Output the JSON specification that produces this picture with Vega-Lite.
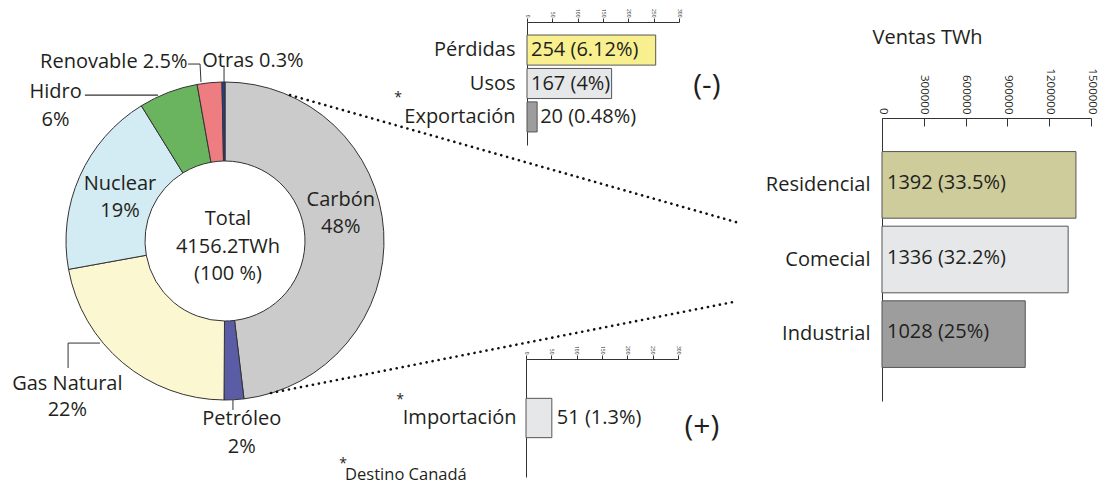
{
  "$schema": "https://vega.github.io/schema/vega-lite/v6.json",
  "width": 1101,
  "height": 487,
  "autosize": {"type": "none"},
  "padding": 0,
  "background": "white",
  "config": {
    "view": {"stroke": null},
    "font": "Open Sans",
    "axis": {"labelFont": "Open Sans", "titleFont": "Open Sans", "labelColor": "#231f20", "titleColor": "#231f20", "domainColor": "#333333", "tickColor": "#333333", "grid": false}
  },
  "datasets": {
    "fuentes": [
      {"fuente": "Carbón", "pct": 48, "orden": 1},
      {"fuente": "Petróleo", "pct": 2, "orden": 2},
      {"fuente": "Gas Natural", "pct": 22, "orden": 3},
      {"fuente": "Nuclear", "pct": 19, "orden": 4},
      {"fuente": "Hidro", "pct": 6, "orden": 5},
      {"fuente": "Renovable", "pct": 2.5, "orden": 6},
      {"fuente": "Otras", "pct": 0.3, "orden": 7}
    ],
    "total": [{"total": 4156.2, "pct": 100}],
    "balance": [
      {"concepto": "Pérdidas", "twh": 254, "pct": 6.12},
      {"concepto": "Usos", "twh": 167, "pct": 4},
      {"concepto": "Exportación", "twh": 20, "pct": 0.48}
    ],
    "importacion": [{"concepto": "Importación", "twh": 51, "pct": 1.3}],
    "ventas": [
      {"sector": "Residencial", "twh": 1392, "pct": 33.5},
      {"sector": "Comecial", "twh": 1336, "pct": 32.2},
      {"sector": "Industrial", "twh": 1028, "pct": 25}
    ]
  },
  "resolve": {
    "scale": {"x": "independent", "y": "independent", "theta": "independent", "fill": "independent"},
    "axis": {"x": "independent", "y": "independent"}
  },
  "layer": [
    {
      "data": {"name": "fuentes"},
      "transform": [
        {"window": [{"op": "sum", "field": "pct", "as": "acum"}], "sort": [{"field": "orden"}], "frame": [null, 0]},
        {"calculate": "datum.acum - datum.pct / 2", "as": "medio"},
        {"calculate": "indexof(['Renovable', 'Otras'], datum.fuente) >= 0 ? datum.fuente + ' ' + datum.pct + '%' : [datum.fuente, datum.pct + '%']", "as": "etiqueta"}
      ],
      "layer": [
        {
          "mark": {"type": "arc", "innerRadius": 80, "outerRadius": 159, "stroke": "#333333", "strokeWidth": 1},
          "encoding": {
            "x": {"datum": 0, "type": "quantitative", "scale": {"domain": [-1, 1], "range": [66, 384], "nice": false, "zero": false}, "axis": null},
            "y": {"datum": 0, "type": "quantitative", "scale": {"domain": [-1, 1], "range": [400, 82], "nice": false, "zero": false}, "axis": null},
            "theta": {"field": "pct", "type": "quantitative", "stack": true},
            "order": {"field": "orden", "type": "quantitative"},
            "fill": {"field": "fuente", "type": "nominal", "legend": null,
              "scale": {"domain": ["Carbón", "Petróleo", "Gas Natural", "Nuclear", "Hidro", "Renovable", "Otras"],
                        "range": ["#cbcbcb", "#5a5ca6", "#fbf7d0", "#d3ebf2", "#6bb45f", "#ee7d82", "#1f3f8f"]}}
          }
        },
        {
          "transform": [{"filter": "datum.fuente == 'Carbón'"}],
          "mark": {"type": "text", "radius": 116, "dx": 0, "dy": -34, "fontSize": 20, "lineHeight": 27, "align": "center", "baseline": "middle", "color": "#231f20", "font": "Open Sans"},
          "encoding": {
            "x": {"datum": 0, "type": "quantitative", "scale": {"domain": [-1, 1], "range": [66, 384], "nice": false, "zero": false}, "axis": null},
            "y": {"datum": 0, "type": "quantitative", "scale": {"domain": [-1, 1], "range": [400, 82], "nice": false, "zero": false}, "axis": null},
            "theta": {"field": "medio", "type": "quantitative", "stack": null},
            "text": {"field": "etiqueta", "type": "nominal"}
          }
        },
        {
          "transform": [{"filter": "datum.fuente == 'Nuclear'"}],
          "mark": {"type": "text", "radius": 116, "dx": 1, "dy": -10, "fontSize": 20, "lineHeight": 27, "align": "center", "baseline": "middle", "color": "#231f20", "font": "Open Sans"},
          "encoding": {
            "x": {"datum": 0, "type": "quantitative", "scale": {"domain": [-1, 1], "range": [66, 384], "nice": false, "zero": false}, "axis": null},
            "y": {"datum": 0, "type": "quantitative", "scale": {"domain": [-1, 1], "range": [400, 82], "nice": false, "zero": false}, "axis": null},
            "theta": {"field": "medio", "type": "quantitative", "stack": null},
            "text": {"field": "etiqueta", "type": "nominal"}
          }
        },
        {
          "transform": [{"filter": "datum.fuente == 'Petróleo'"}],
          "mark": {"type": "text", "radius": 190, "dx": 6, "dy": -12, "fontSize": 20, "lineHeight": 28, "align": "center", "baseline": "middle", "color": "#231f20", "font": "Open Sans"},
          "encoding": {
            "x": {"datum": 0, "type": "quantitative", "scale": {"domain": [-1, 1], "range": [66, 384], "nice": false, "zero": false}, "axis": null},
            "y": {"datum": 0, "type": "quantitative", "scale": {"domain": [-1, 1], "range": [400, 82], "nice": false, "zero": false}, "axis": null},
            "theta": {"field": "medio", "type": "quantitative", "stack": null},
            "text": {"field": "etiqueta", "type": "nominal"}
          }
        },
        {
          "transform": [{"filter": "datum.fuente == 'Gas Natural'"}],
          "mark": {"type": "text", "radius": 200, "dx": -29, "dy": -10, "fontSize": 20, "lineHeight": 26, "align": "center", "baseline": "middle", "color": "#231f20", "font": "Open Sans"},
          "encoding": {
            "x": {"datum": 0, "type": "quantitative", "scale": {"domain": [-1, 1], "range": [66, 384], "nice": false, "zero": false}, "axis": null},
            "y": {"datum": 0, "type": "quantitative", "scale": {"domain": [-1, 1], "range": [400, 82], "nice": false, "zero": false}, "axis": null},
            "theta": {"field": "medio", "type": "quantitative", "stack": null},
            "text": {"field": "etiqueta", "type": "nominal"}
          }
        },
        {
          "transform": [{"filter": "datum.fuente == 'Hidro'"}],
          "mark": {"type": "text", "radius": 200, "dx": -98, "dy": 38, "fontSize": 20, "lineHeight": 28, "align": "center", "baseline": "middle", "color": "#231f20", "font": "Open Sans"},
          "encoding": {
            "x": {"datum": 0, "type": "quantitative", "scale": {"domain": [-1, 1], "range": [66, 384], "nice": false, "zero": false}, "axis": null},
            "y": {"datum": 0, "type": "quantitative", "scale": {"domain": [-1, 1], "range": [400, 82], "nice": false, "zero": false}, "axis": null},
            "theta": {"field": "medio", "type": "quantitative", "stack": null},
            "text": {"field": "etiqueta", "type": "nominal"}
          }
        },
        {
          "transform": [{"filter": "datum.fuente == 'Renovable'"}],
          "mark": {"type": "text", "radius": 180, "dx": -20, "dy": 0, "fontSize": 20, "align": "right", "baseline": "middle", "color": "#231f20", "font": "Open Sans"},
          "encoding": {
            "x": {"datum": 0, "type": "quantitative", "scale": {"domain": [-1, 1], "range": [66, 384], "nice": false, "zero": false}, "axis": null},
            "y": {"datum": 0, "type": "quantitative", "scale": {"domain": [-1, 1], "range": [400, 82], "nice": false, "zero": false}, "axis": null},
            "theta": {"field": "medio", "type": "quantitative", "stack": null},
            "text": {"field": "etiqueta", "type": "nominal"}
          }
        },
        {
          "transform": [{"filter": "datum.fuente == 'Otras'"}],
          "mark": {"type": "text", "radius": 180, "dx": -21, "dy": 0, "fontSize": 20, "align": "left", "baseline": "middle", "color": "#231f20", "font": "Open Sans"},
          "encoding": {
            "x": {"datum": 0, "type": "quantitative", "scale": {"domain": [-1, 1], "range": [66, 384], "nice": false, "zero": false}, "axis": null},
            "y": {"datum": 0, "type": "quantitative", "scale": {"domain": [-1, 1], "range": [400, 82], "nice": false, "zero": false}, "axis": null},
            "theta": {"field": "medio", "type": "quantitative", "stack": null},
            "text": {"field": "etiqueta", "type": "nominal"}
          }
        }
      ]
    },
    {
      "data": {"name": "total"},
      "transform": [
        {"calculate": "['Total', datum.total + 'TWh', '(' + datum.pct + ' %)']", "as": "etiqueta"}
      ],
      "layer": [
        {
          "mark": {"type": "text", "dx": 3, "dy": -22, "fontSize": 20, "lineHeight": 27.5, "align": "center", "baseline": "middle", "color": "#231f20", "font": "Open Sans"},
          "encoding": {
            "x": {"datum": 0, "type": "quantitative", "scale": {"domain": [-1, 1], "range": [66, 384], "nice": false, "zero": false}, "axis": null},
            "y": {"datum": 0, "type": "quantitative", "scale": {"domain": [-1, 1], "range": [400, 82], "nice": false, "zero": false}, "axis": null},
            "text": {"field": "etiqueta", "type": "nominal"}
          }
        },
        {
          "mark": {"type": "rule", "color": "#333333", "strokeWidth": 1.2},
          "encoding": {
            "x": {"datum": -0.881, "type": "quantitative", "scale": {"domain": [-1, 1], "range": [66, 384], "nice": false, "zero": false}, "axis": null},
            "x2": {"datum": -0.421},
            "y": {"datum": 0.918, "type": "quantitative", "scale": {"domain": [-1, 1], "range": [400, 82], "nice": false, "zero": false}, "axis": null}
          }
        },
        {
          "mark": {"type": "rule", "color": "#333333", "strokeWidth": 1},
          "encoding": {
            "x": {"datum": -0.233, "type": "quantitative", "scale": {"domain": [-1, 1], "range": [66, 384], "nice": false, "zero": false}, "axis": null},
            "x2": {"datum": -0.157},
            "y": {"datum": 1.113, "type": "quantitative", "scale": {"domain": [-1, 1], "range": [400, 82], "nice": false, "zero": false}, "axis": null}
          }
        },
        {
          "mark": {"type": "rule", "color": "#333333", "strokeWidth": 1},
          "encoding": {
            "x": {"datum": -0.157, "type": "quantitative", "scale": {"domain": [-1, 1], "range": [66, 384], "nice": false, "zero": false}, "axis": null},
            "x2": {"datum": -0.151},
            "y": {"datum": 1.113, "type": "quantitative", "scale": {"domain": [-1, 1], "range": [400, 82], "nice": false, "zero": false}, "axis": null},
            "y2": {"datum": 1.0}
          }
        },
        {
          "mark": {"type": "rule", "color": "#333333", "strokeWidth": 1},
          "encoding": {
            "x": {"datum": -0.006, "type": "quantitative", "scale": {"domain": [-1, 1], "range": [66, 384], "nice": false, "zero": false}, "axis": null},
            "y": {"datum": 1.101, "type": "quantitative", "scale": {"domain": [-1, 1], "range": [400, 82], "nice": false, "zero": false}, "axis": null},
            "y2": {"datum": 1.0}
          }
        },
        {
          "mark": {"type": "rule", "color": "#333333", "strokeWidth": 1},
          "encoding": {
            "x": {"datum": -0.987, "type": "quantitative", "scale": {"domain": [-1, 1], "range": [66, 384], "nice": false, "zero": false}, "axis": null},
            "y": {"datum": -0.799, "type": "quantitative", "scale": {"domain": [-1, 1], "range": [400, 82], "nice": false, "zero": false}, "axis": null},
            "y2": {"datum": -0.642}
          }
        },
        {
          "mark": {"type": "rule", "color": "#333333", "strokeWidth": 1},
          "encoding": {
            "x": {"datum": -0.987, "type": "quantitative", "scale": {"domain": [-1, 1], "range": [66, 384], "nice": false, "zero": false}, "axis": null},
            "x2": {"datum": -0.786},
            "y": {"datum": -0.642, "type": "quantitative", "scale": {"domain": [-1, 1], "range": [400, 82], "nice": false, "zero": false}, "axis": null}
          }
        },
        {
          "mark": {"type": "rule", "color": "#333333", "strokeWidth": 1},
          "encoding": {
            "x": {"datum": 0.05, "type": "quantitative", "scale": {"domain": [-1, 1], "range": [66, 384], "nice": false, "zero": false}, "axis": null},
            "y": {"datum": -1.0, "type": "quantitative", "scale": {"domain": [-1, 1], "range": [400, 82], "nice": false, "zero": false}, "axis": null},
            "y2": {"datum": -1.063}
          }
        },
        {
          "mark": {"type": "rule", "color": "#111111", "strokeWidth": 2.6, "strokeCap": "round", "strokeDash": [0.1, 6]},
          "encoding": {
            "x": {"datum": 0.409, "type": "quantitative", "scale": {"domain": [-1, 1], "range": [66, 384], "nice": false, "zero": false}, "axis": null},
            "x2": {"datum": 3.214},
            "y": {"datum": 0.918, "type": "quantitative", "scale": {"domain": [-1, 1], "range": [400, 82], "nice": false, "zero": false}, "axis": null},
            "y2": {"datum": 0.119}
          }
        },
        {
          "mark": {"type": "rule", "color": "#111111", "strokeWidth": 2.6, "strokeCap": "round", "strokeDash": [0.1, 6]},
          "encoding": {
            "x": {"datum": 0.289, "type": "quantitative", "scale": {"domain": [-1, 1], "range": [66, 384], "nice": false, "zero": false}, "axis": null},
            "x2": {"datum": 3.195},
            "y": {"datum": -0.956, "type": "quantitative", "scale": {"domain": [-1, 1], "range": [400, 82], "nice": false, "zero": false}, "axis": null},
            "y2": {"datum": -0.384}
          }
        }
      ]
    },
    {
      "data": {"name": "balance"},
      "transform": [
        {"calculate": "datum.twh + ' (' + datum.pct + '%)'", "as": "etiqueta"}
      ],
      "layer": [
        {
          "mark": {"type": "bar", "stroke": "#555555", "strokeWidth": 1},
          "encoding": {
            "y": {"field": "concepto", "type": "nominal", "sort": null,
              "scale": {"domain": ["Pérdidas", "Usos", "Exportación"], "range": [22, 145], "paddingInner": 0.1, "paddingOuter": 0.39},
              "axis": {"orient": "left", "offset": -527, "ticks": false, "labelPadding": 12, "labelFontSize": 20, "title": null}},
            "x": {"field": "twh", "type": "quantitative",
              "scale": {"domain": [0, 300], "range": [527, 679], "nice": false, "zero": false},
              "axis": {"orient": "top", "offset": -22, "values": [0, 50, 100, 150, 200, 250, 300], "labelFontSize": 5, "labelAngle": 90, "labelAlign": "right", "labelBaseline": "middle", "labelPadding": 1, "tickSize": 4, "labelFlush": false, "labelOverlap": false, "title": null}},
            "fill": {"field": "concepto", "type": "nominal", "legend": null,
              "scale": {"domain": ["Pérdidas", "Usos", "Exportación"], "range": ["#f8f08f", "#e6e7e9", "#9d9d9d"]}}
          }
        },
        {
          "transform": [{"filter": "datum.twh >= 100"}],
          "mark": {"type": "text", "align": "left", "baseline": "middle", "dx": 4, "fontSize": 20, "color": "#231f20", "font": "Open Sans"},
          "encoding": {
            "y": {"field": "concepto", "type": "nominal", "sort": null, "scale": {"domain": ["Pérdidas", "Usos", "Exportación"], "range": [22, 145], "paddingInner": 0.1, "paddingOuter": 0.39}},
            "x": {"datum": 0, "type": "quantitative", "scale": {"domain": [0, 300], "range": [527, 679], "nice": false, "zero": false}},
            "text": {"field": "etiqueta", "type": "nominal"}
          }
        },
        {
          "transform": [{"filter": "datum.twh < 100"}],
          "mark": {"type": "text", "align": "left", "baseline": "middle", "dx": 3, "fontSize": 20, "color": "#231f20", "font": "Open Sans"},
          "encoding": {
            "y": {"field": "concepto", "type": "nominal", "sort": null, "scale": {"domain": ["Pérdidas", "Usos", "Exportación"], "range": [22, 145], "paddingInner": 0.1, "paddingOuter": 0.39}},
            "x": {"field": "twh", "type": "quantitative", "scale": {"domain": [0, 300], "range": [527, 679], "nice": false, "zero": false}},
            "text": {"field": "etiqueta", "type": "nominal"}
          }
        },
        {
          "data": {"values": [{}]},
          "mark": {"type": "text", "align": "center", "baseline": "middle", "dy": 2, "fontSize": 30, "color": "#231f20", "font": "Open Sans"},
          "encoding": {
            "y": {"datum": "Usos", "type": "nominal", "scale": {"domain": ["Pérdidas", "Usos", "Exportación"], "range": [22, 145], "paddingInner": 0.1, "paddingOuter": 0.39}},
            "x": {"datum": 355, "type": "quantitative", "scale": {"domain": [0, 300], "range": [527, 679], "nice": false, "zero": false}},
            "text": {"value": "(-)"}
          }
        },
        {
          "data": {"values": [{}]},
          "mark": {"type": "text", "align": "center", "baseline": "middle", "dy": -19, "fontSize": 14, "color": "#231f20", "font": "Open Sans"},
          "encoding": {
            "y": {"datum": "Exportación", "type": "nominal", "scale": {"domain": ["Pérdidas", "Usos", "Exportación"], "range": [22, 145], "paddingInner": 0.1, "paddingOuter": 0.39}},
            "x": {"datum": -254.6, "type": "quantitative", "scale": {"domain": [0, 300], "range": [527, 679], "nice": false, "zero": false}},
            "text": {"value": "*"}
          }
        }
      ]
    },
    {
      "data": {"name": "importacion"},
      "transform": [
        {"calculate": "datum.twh + ' (' + datum.pct + '%)'", "as": "etiqueta"}
      ],
      "layer": [
        {
          "mark": {"type": "bar", "stroke": "#555555", "strokeWidth": 1},
          "encoding": {
            "y": {"field": "concepto", "type": "nominal", "sort": null,
              "scale": {"domain": ["Importación"], "range": [359, 477], "paddingInner": 0, "paddingOuter": 1.534},
              "axis": {"orient": "left", "offset": -526, "ticks": false, "labelPadding": 10, "labelFontSize": 20, "title": null}},
            "x": {"field": "twh", "type": "quantitative",
              "scale": {"domain": [0, 300], "range": [526, 678], "nice": false, "zero": false},
              "axis": {"orient": "top", "offset": -359, "values": [0, 50, 100, 150, 200, 250, 300], "labelFontSize": 5, "labelAngle": 90, "labelAlign": "right", "labelBaseline": "middle", "labelPadding": 1, "tickSize": 4, "labelFlush": false, "labelOverlap": false, "title": null}},
            "fill": {"field": "concepto", "type": "nominal", "legend": null,
              "scale": {"domain": ["Importación"], "range": ["#e6e7e9"]}}
          }
        },
        {
          "mark": {"type": "text", "align": "left", "baseline": "middle", "dx": 5, "fontSize": 20, "color": "#231f20", "font": "Open Sans"},
          "encoding": {
            "y": {"field": "concepto", "type": "nominal", "sort": null, "scale": {"domain": ["Importación"], "range": [359, 477], "paddingInner": 0, "paddingOuter": 1.534}},
            "x": {"field": "twh", "type": "quantitative", "scale": {"domain": [0, 300], "range": [526, 678], "nice": false, "zero": false}},
            "text": {"field": "etiqueta", "type": "nominal"}
          }
        },
        {
          "mark": {"type": "text", "align": "center", "baseline": "middle", "dy": 9, "fontSize": 30, "color": "#231f20", "font": "Open Sans"},
          "encoding": {
            "y": {"datum": "Importación", "type": "nominal", "scale": {"domain": ["Importación"], "range": [359, 477], "paddingInner": 0, "paddingOuter": 1.534}},
            "x": {"datum": 347, "type": "quantitative", "scale": {"domain": [0, 300], "range": [526, 678], "nice": false, "zero": false}},
            "text": {"value": "(+)"}
          }
        },
        {
          "mark": {"type": "text", "align": "center", "baseline": "middle", "dy": -18, "fontSize": 14, "color": "#231f20", "font": "Open Sans"},
          "encoding": {
            "y": {"datum": "Importación", "type": "nominal", "scale": {"domain": ["Importación"], "range": [359, 477], "paddingInner": 0, "paddingOuter": 1.534}},
            "x": {"datum": -248.7, "type": "quantitative", "scale": {"domain": [0, 300], "range": [526, 678], "nice": false, "zero": false}},
            "text": {"value": "*"}
          }
        },
        {
          "mark": {"type": "text", "align": "center", "baseline": "middle", "dy": 46, "fontSize": 14, "color": "#231f20", "font": "Open Sans"},
          "encoding": {
            "y": {"datum": "Importación", "type": "nominal", "scale": {"domain": ["Importación"], "range": [359, 477], "paddingInner": 0, "paddingOuter": 1.534}},
            "x": {"datum": -361, "type": "quantitative", "scale": {"domain": [0, 300], "range": [526, 678], "nice": false, "zero": false}},
            "text": {"value": "*"}
          }
        },
        {
          "mark": {"type": "text", "align": "left", "baseline": "middle", "dy": 57, "fontSize": 16.5, "color": "#231f20", "font": "Open Sans"},
          "encoding": {
            "y": {"datum": "Importación", "type": "nominal", "scale": {"domain": ["Importación"], "range": [359, 477], "paddingInner": 0, "paddingOuter": 1.534}},
            "x": {"datum": -357, "type": "quantitative", "scale": {"domain": [0, 300], "range": [526, 678], "nice": false, "zero": false}},
            "text": {"value": "Destino Canadá"}
          }
        }
      ]
    },
    {
      "data": {"name": "ventas"},
      "transform": [
        {"calculate": "datum.twh + ' (' + datum.pct + '%)'", "as": "etiqueta"}
      ],
      "layer": [
        {
          "mark": {"type": "bar", "stroke": "#555555", "strokeWidth": 1},
          "encoding": {
            "y": {"field": "sector", "type": "nominal", "sort": null,
              "scale": {"domain": ["Residencial", "Comecial", "Industrial"], "range": [118, 401], "paddingInner": 0.107, "paddingOuter": 0.45},
              "axis": {"orient": "left", "offset": -882, "ticks": false, "labelPadding": 12, "labelFontSize": 20, "title": null}},
            "x": {"field": "twh", "type": "quantitative",
              "scale": {"domain": [0, 1500], "range": [882, 1091], "nice": false, "zero": false},
              "axis": {"orient": "top", "offset": -118, "values": [0, 300, 600, 900, 1200, 1500], "labelExpr": "format(datum.value * 1000, 'd')",
                       "labelFontSize": 11.5, "labelAngle": 90, "labelAlign": "right", "labelBaseline": "middle", "labelPadding": 12, "tickSize": -8, "labelFlush": false, "labelOverlap": false, "labelBound": false,
                       "title": "Ventas TWh", "titleFontSize": 20, "titleFontWeight": "normal", "titleAnchor": "start", "titleAlign": "left", "titleBaseline": "alphabetic", "titleX": 872, "titleY": -75}},
            "fill": {"field": "sector", "type": "nominal", "legend": null,
              "scale": {"domain": ["Residencial", "Comecial", "Industrial"], "range": ["#cdcc9a", "#e6e7e9", "#9d9d9d"]}}
          }
        },
        {
          "mark": {"type": "text", "align": "left", "baseline": "middle", "dx": 5, "dy": -2, "fontSize": 20, "color": "#231f20", "font": "Open Sans"},
          "encoding": {
            "y": {"field": "sector", "type": "nominal", "sort": null, "scale": {"domain": ["Residencial", "Comecial", "Industrial"], "range": [118, 401], "paddingInner": 0.107, "paddingOuter": 0.45}},
            "x": {"datum": 0, "type": "quantitative", "scale": {"domain": [0, 1500], "range": [882, 1091], "nice": false, "zero": false}},
            "text": {"field": "etiqueta", "type": "nominal"}
          }
        }
      ]
    }
  ]
}
